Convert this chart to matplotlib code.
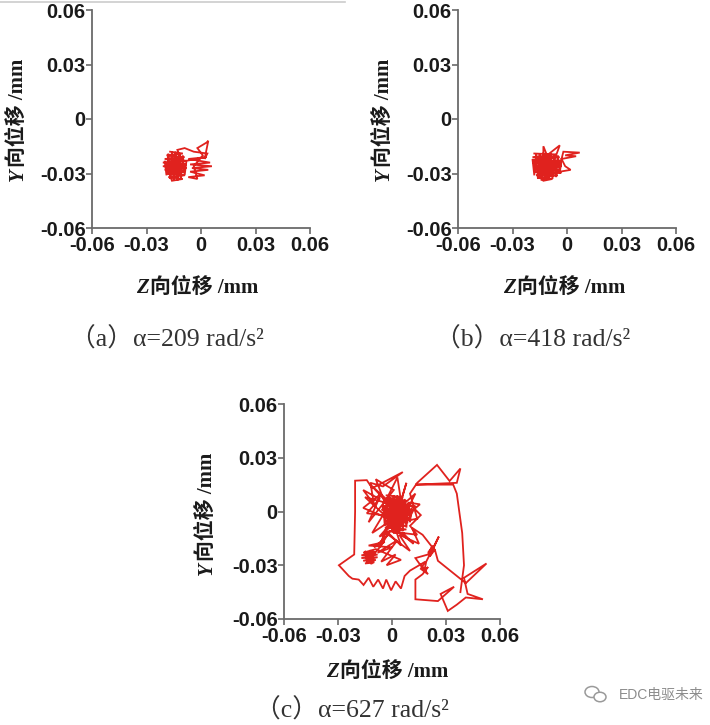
import matplotlib
matplotlib.use('Agg')
import matplotlib.pyplot as plt
from matplotlib.patches import Ellipse
from matplotlib.lines import Line2D

# ---------------- data (mm) ----------------
tick_vals = [-0.06, -0.03, 0, 0.03, 0.06]
x_tick_labels = ['-0.06', '-0.03', '0', '0.03', '0.06']
y_tick_labels = ['-0.06', '-0.03', '0', '0.03', '0.06']
captions = ['（a）α=209 rad/s²', '（b）α=418 rad/s²', '（c）α=627 rad/s²']

a_z = [-0.017, -0.010, -0.019, -0.009, -0.020, -0.008, -0.021, -0.008, -0.021, -0.008,
       -0.020, -0.009, -0.019, -0.009, -0.018, -0.010, -0.016,
       -0.020, -0.019, -0.018, -0.017, -0.016, -0.015, -0.014, -0.013, -0.012, -0.011,
       -0.010, -0.009, -0.008,
       0.003, -0.007, 0.005, -0.006, 0.006, -0.005, 0.004, -0.006, 0.002, -0.007, -0.002,
       -0.004, 0.001, -0.002, 0.003, 0.004, 0.002, 0.0035, -0.004, -0.009, -0.013, -0.011,
       -0.019, -0.012, -0.017, -0.009, -0.015, -0.011, -0.018, -0.013]
a_y = [-0.018, -0.019, -0.020, -0.021, -0.022, -0.023, -0.024, -0.025, -0.026, -0.027,
       -0.028, -0.029, -0.030, -0.031, -0.032, -0.033, -0.034,
       -0.023, -0.031, -0.019, -0.033, -0.018, -0.034, -0.018, -0.034, -0.019, -0.033,
       -0.020, -0.031, -0.023,
       -0.021, -0.022, -0.024, -0.025, -0.026, -0.027, -0.028, -0.029, -0.031, -0.032, -0.033,
       -0.026, -0.020, -0.016, -0.013, -0.012, -0.022, -0.019, -0.018, -0.016, -0.017, -0.022,
       -0.027, -0.021, -0.031, -0.026, -0.022, -0.030, -0.025, -0.027]

b_z = [-0.018, -0.006, -0.019, -0.004, -0.019, -0.003, -0.019, -0.003, -0.0185, -0.003,
       -0.0185, -0.004, -0.018, -0.003, -0.017, -0.005, -0.016, -0.008, -0.013,
       -0.019, -0.018, -0.017, -0.016, -0.015, -0.014, -0.013, -0.012, -0.011, -0.010,
       -0.009, -0.008, -0.007, -0.006, -0.005, -0.004, -0.003,
       -0.002, 0.007, -0.001, 0.005, -0.003, -0.001, 0.002, -0.004,
       -0.013, -0.013, -0.011, -0.004, -0.006,
       -0.018, -0.008, -0.015, -0.005, -0.016, -0.009, -0.012]
b_y = [-0.019, -0.0195, -0.021, -0.021, -0.0225, -0.023, -0.024, -0.0245, -0.026, -0.026,
       -0.0275, -0.028, -0.029, -0.0295, -0.031, -0.031, -0.0325, -0.033, -0.034,
       -0.022, -0.031, -0.019, -0.033, -0.019, -0.034, -0.0185, -0.034, -0.019, -0.0335,
       -0.019, -0.033, -0.0195, -0.032, -0.020, -0.030, -0.022,
       -0.018, -0.0185, -0.020, -0.0205, -0.022, -0.026, -0.028, -0.029,
       -0.025, -0.015, -0.020, -0.0145, -0.020,
       -0.028, -0.021, -0.032, -0.025, -0.022, -0.030, -0.024]

c_z = [
    # dense core
    -0.003, 0.006, -0.004, 0.008, -0.005, 0.009, -0.006, 0.010, -0.006, 0.011,
    -0.005, 0.010, -0.004, 0.010, -0.004, 0.009, -0.003, 0.008, -0.004, 0.008,
    -0.002, 0.007, 0.001,
    -0.005, -0.004, -0.003, -0.002, -0.001, 0.000, 0.001, 0.002, 0.003, 0.004,
    0.005, 0.006, 0.007, 0.008, 0.009, 0.010, 0.011,
    0.004, -0.005, 0.006, -0.003, 0.009, 0.001, -0.002, 0.008, -0.004, 0.007, 0.002,
    # spikes around the core
    -0.012, 0.000, -0.015, -0.002, -0.016, -0.006, -0.013, 0.001, -0.009, -0.004,
    0.003, 0.005, 0.008, 0.004, 0.013, 0.006, 0.0155, 0.009, 0.016, 0.010,
    0.014, 0.006, 0.012, 0.002, 0.005, -0.003, -0.006, -0.002, -0.011, -0.005,
    -0.014, -0.007, -0.016, -0.010, -0.012, -0.005, 0.006,
    # top-left loop and bottom saw-tooth
    -0.011, -0.014, -0.0205, -0.0205, -0.021,
    -0.0295, -0.024, -0.022, -0.0185, -0.0158, -0.013, -0.0104, -0.0077, -0.005, -0.0032,
    -0.0005, 0.002, 0.005, 0.007, 0.010,
    # lower-right spiky cluster
    0.0185, 0.016, 0.020, 0.017, 0.019, 0.018, 0.013, 0.020, 0.022, 0.021,
    0.024, 0.020, 0.023, 0.021, 0.026, 0.022, 0.019, 0.018, 0.020, 0.017,
    0.013, 0.013, 0.0255, 0.0345, 0.027, 0.031, 0.036,
    0.041, 0.0505, 0.042, 0.040, 0.0525, 0.041, 0.0255, 0.024,
    # middle region towards the lower-left cluster
    0.017, 0.011, 0.015, 0.004, 0.010, -0.002, -0.010, -0.004, -0.013, 0.000,
    -0.008, 0.003, -0.006, 0.002, -0.003, 0.005, -0.009,
    # lower-left dense cluster
    -0.016, -0.009, -0.017, -0.008, -0.017, -0.008, -0.016, -0.009, -0.015, -0.010,
    -0.015, -0.0135, -0.012, -0.0115, -0.0105, -0.014, -0.011,
    # back through the core
    -0.006, -0.002, -0.007, 0.000, -0.004, 0.003, -0.002, 0.006, 0.013, 0.009, 0.014,
    # top-right loop and right descent
    0.010, 0.014, 0.025, 0.032, 0.038, 0.036, 0.013, 0.034, 0.036, 0.039,
    0.040, 0.038]
c_y = [
    0.009, 0.008, 0.007, 0.006, 0.005, 0.004, 0.003, 0.002, 0.001, 0.000,
    -0.001, -0.002, -0.003, -0.004, -0.005, -0.006, -0.007, -0.008, -0.009, -0.010,
    -0.011, -0.012, -0.012,
    0.004, -0.008, 0.007, -0.010, 0.008, -0.011, 0.009, -0.012, 0.009, -0.012,
    0.008, -0.011, 0.007, -0.009, 0.005, -0.006, 0.002,
    -0.009, 0.002, 0.008, -0.006, 0.003, -0.009, 0.008, -0.005, -0.001, 0.006, 0.000,
    0.015, 0.004, 0.008, -0.004, 0.002, 0.010, -0.006, 0.012, 0.018, 0.005,
    0.019, 0.006, 0.016, 0.002, 0.010, -0.004, 0.004, 0.005, -0.002, -0.008,
    -0.013, -0.012, -0.018, -0.010, -0.019, -0.011, -0.017, -0.006, -0.012, -0.002,
    -0.001, 0.007, 0.012, 0.004, 0.016, 0.014, 0.022,
    0.013, 0.0175, 0.0172, 0.000, -0.024,
    -0.030, -0.036, -0.0375, -0.038, -0.041, -0.037, -0.042, -0.038, -0.043, -0.038,
    -0.044, -0.039, -0.043, -0.036, -0.033,
    -0.028, -0.032, -0.035, -0.031, -0.034, -0.033, -0.026, -0.024, -0.020, -0.025,
    -0.021, -0.023, -0.019, -0.025, -0.014, -0.022, -0.028, -0.033, -0.031, -0.035,
    -0.038, -0.049, -0.050, -0.042, -0.046, -0.0555, -0.052,
    -0.048, -0.049, -0.046, -0.037, -0.029, -0.040, -0.0275, -0.022,
    -0.013, -0.009, -0.018, -0.013, -0.022, -0.013, -0.020, -0.017, -0.019, -0.020,
    -0.023, -0.016, -0.028, -0.024, -0.030, -0.027, -0.021,
    -0.023, -0.0225, -0.0245, -0.024, -0.026, -0.0255, -0.0275, -0.027, -0.029, -0.0285,
    -0.022, -0.029, -0.0215, -0.0295, -0.022, -0.026, -0.025,
    -0.019, -0.012, -0.014, -0.006, -0.012, -0.010, 0.001, 0.003, 0.003, -0.005, -0.004,
    0.010, 0.016, 0.026, 0.017, 0.024, 0.016, 0.015, 0.015, 0.010, -0.012,
    -0.030, -0.045]

# ---------------- figure ----------------
W, H = 710, 725
fig = plt.figure(figsize=(W / 100, H / 100), dpi=100)

def px_axes(x0, y0, x1, y1):
    return fig.add_axes([x0 / W, 1 - y1 / H, (x1 - x0) / W, (y1 - y0) / H])

line_color = '#e0221e'
spine_color = '#6a6a6a'
text_color = '#1a1a1a'
cjk_family = ['Liberation Serif', 'Noto Sans CJK SC']

def style(ax):
    ax.set_xlim(-0.06, 0.06)
    ax.set_ylim(-0.06, 0.06)
    ax.set_xticks(tick_vals)
    ax.set_xticklabels(x_tick_labels)
    ax.set_yticks(tick_vals)
    ax.set_yticklabels(y_tick_labels)
    for s in ['top', 'right']:
        ax.spines[s].set_visible(False)
    for s in ['left', 'bottom']:
        ax.spines[s].set_color(spine_color)
        ax.spines[s].set_linewidth(1.3)
    ax.tick_params(direction='out', length=4, width=1.2, color=spine_color,
                   labelsize=14.5, labelcolor=text_color)
    ax.tick_params(axis='x', pad=1.5)
    ax.tick_params(axis='y', pad=0.5)
    for lab in ax.get_xticklabels() + ax.get_yticklabels():
        lab.set_fontweight('bold')
        lab.set_family('Liberation Sans')
    ax.patch.set_alpha(0)

def fx(x):
    return x / W

def fy(y):
    return 1 - y / H

def xlabel_at(xa, yb, letter):
    fig.text(fx(xa), fy(yb), letter, ha='right', va='baseline', family='Liberation Serif',
             style='italic', fontweight='bold', fontsize=15, color=text_color)
    fig.text(fx(xa + 1), fy(yb), '向位移 /mm', ha='left', va='baseline', family=cjk_family,
             fontweight='bold', fontsize=15, color=text_color)

def ylabel_at(xb, ya, letter):
    fig.text(fx(xb), fy(ya), letter, ha='right', va='baseline', rotation=90,
             rotation_mode='anchor', family='Liberation Serif', style='italic',
             fontweight='bold', fontsize=15, color=text_color)
    fig.text(fx(xb), fy(ya - 1), '向位移 /mm', ha='left', va='baseline', rotation=90,
             rotation_mode='anchor', family=cjk_family, fontweight='bold', fontsize=15,
             color=text_color)

panels = [
    ((92, 10, 310, 228), a_z, a_y, (149, 293), (23, 168), (167, 339), captions[0]),
    ((458, 10, 676, 228), b_z, b_y, (516, 293), (389, 168), (533, 339), captions[1]),
    ((284, 404, 500, 619), c_z, c_y, (339, 677), (212, 562), (352, 710), captions[2]),
]

for box, zs, ys, xl, yl, cp, cap in panels:
    ax = px_axes(*box)
    ax.plot(zs, ys, color=line_color, lw=1.3, solid_joinstyle='miter')
    style(ax)
    xlabel_at(xl[0], xl[1], 'Z')
    ylabel_at(yl[0], yl[1], 'Y')
    fig.text(fx(cp[0]), fy(cp[1]), cap, ha='center', va='center', family=cjk_family,
             fontsize=18.5, color='#333333')

# top thin rule
fig.add_artist(Line2D([0, 345 / W], [1 - 1.5 / H, 1 - 1.5 / H], color='#cccccc', lw=1.2))

# watermark
fig.text(fx(661), fy(695), 'EDC电驱未来', family=['Liberation Sans', 'Noto Sans CJK SC'],
         fontsize=10, color='#8c8c8c', ha='center', va='center')
fig.add_artist(Ellipse((fx(592), fy(692)), 14 / W, 11 / H, fill=False, ec='#9a9a9a', lw=1.1))
fig.add_artist(Ellipse((fx(600), fy(697)), 12 / W, 9.5 / H, fill=True, fc='white',
                       ec='#9a9a9a', lw=1.1))

fig.savefig('out.png', dpi=100)
